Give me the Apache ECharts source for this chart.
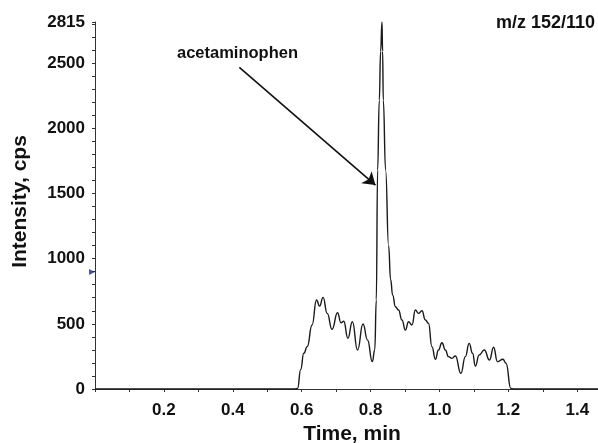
<!DOCTYPE html>
<html>
<head>
<meta charset="utf-8">
<script src="https://cdn.jsdelivr.net/npm/echarts@6/dist/echarts.min.js"></script>
<style>html,body{margin:0;padding:0;background:#fff}#c{width:598px;height:443px}</style>
</head>
<body>
<div id="c"></div>
<script>
// Time (min)
const times = [0, 0.580, 0.588, 0.597, 0.606, 0.616, 0.630, 0.643, 0.652, 0.662, 0.674, 0.688, 0.704, 0.714, 0.722, 0.734, 0.747, 0.762, 0.778, 0.791, 0.805, 0.812,
  0.8165, 0.8203, 0.8252, 0.8290, 0.8330, 0.8348, 0.8368, 0.8435, 0.8522, 0.858, 0.864, 0.872, 0.881, 0.891, 0.901, 0.910, 0.920, 0.930, 0.939, 0.949, 0.959, 0.968,
  0.978, 0.988, 0.997, 1.007, 1.017, 1.026, 1.036, 1.046, 1.062, 1.075, 1.086, 1.096, 1.104, 1.115, 1.130, 1.145, 1.157, 1.168, 1.184, 1.193, 1.207, 1.215, 1.46];
// Intensity (cps)
const intensity = [0, 0, 5, 150, 274, 325, 491, 683, 636, 703, 580, 458, 585, 508, 520, 389, 516, 299, 498, 376, 210, 300,
  683, 1679, 2216, 2590, 2815, 2590, 2216, 1679, 1100, 840, 720, 631, 606, 529, 452, 516, 491, 606, 580, 600, 529, 504,
  325, 228, 299, 355, 299, 248, 235, 253, 120, 248, 350, 274, 176, 261, 299, 222, 320, 210, 228, 197, 5, 0, 0];
const yTickLabels = [0, 500, 1000, 1500, 2000, 2500, 2815];
const xTickLabels = [0.2, 0.4, 0.6, 0.8, 1.0, 1.2, 1.4];
const arrowFrom = [0.419, 2467];
const arrowTo = [0.814, 1564];
const markerPoint = [0, 897];

const chart = echarts.init(document.getElementById('c'), null, {renderer: 'canvas'});
const font = 'Liberation Sans, Arial, sans-serif';
chart.setOption({
  animation: false,
  backgroundColor: '#fff',
  grid: {left: 95, right: 0, top: 22, bottom: 54, containLabel: false, outerBoundsMode: 'none'},
  xAxis: {
    type: 'value', min: 0, max: 1.46, interval: 0.1,
    name: 'Time, min', nameLocation: 'middle', nameGap: 35,
    nameTextStyle: {fontFamily: font, fontWeight: 'bold', fontSize: 21, color: '#111', padding: [0, 0, 0, 11]},
    axisLine: {show: true, lineStyle: {color: '#333', width: 1}},
    axisTick: {show: true, length: 3, lineStyle: {color: '#333'}},
    splitLine: {show: false},
    axisLabel: {
      margin: 13, fontFamily: font, fontWeight: 'bold', fontSize: 17, color: '#111',
      showMinLabel: true, showMaxLabel: true,
      formatter: function (v) {
        for (const t of xTickLabels) { if (Math.abs(v - t) < 1e-6) return t.toFixed(1); }
        return '';
      }
    }
  },
  yAxis: {
    type: 'value', min: 0, max: 2815, interval: 100,
    name: 'Intensity, cps', nameLocation: 'middle', nameGap: 64,
    nameTextStyle: {fontFamily: font, fontWeight: 'bold', fontSize: 21, color: '#111', padding: [0, 0, 0, 8]},
    axisLine: {show: true, lineStyle: {color: '#333', width: 1}},
    axisTick: {show: true, length: 3, lineStyle: {color: '#333'}},
    splitLine: {show: false},
    axisLabel: {
      margin: 10, fontFamily: font, fontWeight: 'bold', fontSize: 17, color: '#111',
      showMinLabel: true, showMaxLabel: true,
      formatter: function (v) {
        for (const t of yTickLabels) { if (Math.abs(v - t) < 1e-6) return String(t); }
        return '';
      }
    }
  },
  graphic: [
    {type: 'text', left: 177, top: 45, z: 10,
     style: {text: 'acetaminophen', fontFamily: font, fontWeight: 'bold', fontSize: 16.5, fill: '#111'}},
    {type: 'text', right: 3, top: 14, z: 10,
     style: {text: 'm/z 152/110', fontFamily: font, fontWeight: 'bold', fontSize: 18, fill: '#111'}}
  ],
  series: [
    {
      type: 'line',
      data: times.map((t, i) => [t, intensity[i]]),
      showSymbol: false,
      smooth: 0.5,
      smoothMonotone: 'x',
      lineStyle: {color: '#1a1a1a', width: 1.4},
      clip: false,
      markLine: {
        silent: true,
        symbol: ['none', 'arrow'],
        symbolSize: 12,
        label: {show: false},
        lineStyle: {color: '#111', width: 1.6, type: 'solid'},
        data: [[{coord: arrowFrom}, {coord: arrowTo}]]
      }
    },
    {
      type: 'scatter',
      data: [markerPoint],
      symbol: 'triangle',
      symbolRotate: -90,
      symbolSize: 6,
      symbolOffset: [-3, 0],
      itemStyle: {color: '#1f2a80'},
      clip: false,
      silent: true
    }
  ]
});
</script>
</body>
</html>
